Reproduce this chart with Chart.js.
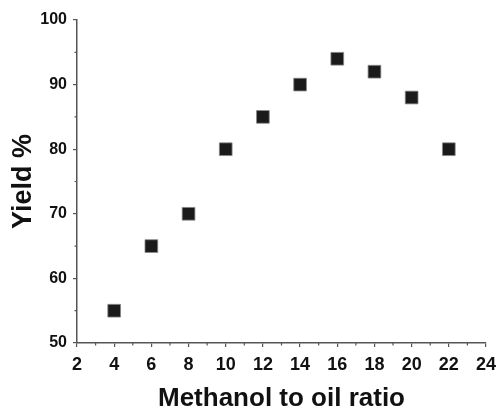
<!DOCTYPE html>
<html>
<head>
<meta charset="utf-8">
<script src="https://cdn.jsdelivr.net/npm/chart.js@4/dist/chart.umd.min.js"></script>
<style>
  html, body { margin: 0; padding: 0; background: #fff; }
  #wrap { width: 498px; height: 411px; }
</style>
</head>
<body>
<div id="wrap"><canvas id="c" width="498" height="411"></canvas></div>
<script>
const ratios = [4, 6, 8, 10, 12, 14, 16, 18, 20, 22];
const yields = [55, 65, 70, 80, 85, 90, 94, 92, 88, 80];
const xTicks = [2, 4, 6, 8, 10, 12, 14, 16, 18, 20, 22, 24];
const yTicks = [50, 60, 70, 80, 90, 100];

const axisColor = '#555';
const font = 'Liberation Sans, Arial, sans-serif';

// minor ticks half way between the major ones, pointing outward
const minorTicks = {
    id: 'minorTicks',
    afterDraw(chart) {
        const ctx = chart.ctx;
        const xs = chart.scales.x, ys = chart.scales.y;
        ctx.save();
        ctx.strokeStyle = axisColor;
        ctx.lineWidth = 1.2;
        ctx.beginPath();
        for (let i = 0; i < xTicks.length - 1; i++) {
            const px = xs.getPixelForValue((xTicks[i] + xTicks[i + 1]) / 2);
            ctx.moveTo(px, xs.top);
            ctx.lineTo(px, xs.top + 2.5);
        }
        for (let i = 0; i < yTicks.length - 1; i++) {
            const py = ys.getPixelForValue((yTicks[i] + yTicks[i + 1]) / 2);
            ctx.moveTo(ys.right, py);
            ctx.lineTo(ys.right - 2.5, py);
        }
        ctx.stroke();
        ctx.restore();
    }
};

new Chart(document.getElementById('c').getContext('2d'), {
    type: 'scatter',
    data: {
        datasets: [{
            data: ratios.map((r, i) => ({x: r, y: yields[i]})),
            pointStyle: 'rect',
            pointRadius: 9,
            backgroundColor: '#1a1a1a',
            borderColor: '#888',
            borderWidth: 0.8
        }]
    },
    options: {
        responsive: false,
        animation: false,
        layout: {padding: {left: 0, right: 12, top: 20, bottom: 0}},
        plugins: {legend: {display: false}, tooltip: {enabled: false}},
        scales: {
            x: {
                type: 'linear',
                min: 2,
                max: 24,
                afterBuildTicks: (s) => { s.ticks = xTicks.map(v => ({value: v})); },
                afterFit: (s) => { s.height = 68; s.paddingLeft = 0; s.paddingRight = 0; },
                grid: {drawOnChartArea: false, drawTicks: true, tickLength: 4, color: axisColor, lineWidth: 1.2},
                border: {color: axisColor, width: 1.5},
                ticks: {color: '#111', padding: 7, font: {family: font, size: 18, weight: 'bold'}, maxRotation: 0},
                title: {display: true, text: 'Methanol to oil ratio', color: '#111',
                        padding: {top: 0, bottom: -3}, font: {family: font, size: 26, weight: 'bold'}}
            },
            y: {
                type: 'linear',
                min: 50,
                max: 100,
                afterBuildTicks: (s) => { s.ticks = yTicks.map(v => ({value: v})); },
                afterFit: (s) => { s.width = 77; s.paddingTop = 0; s.paddingBottom = 0; },
                grid: {drawOnChartArea: false, drawTicks: true, tickLength: 4, color: axisColor, lineWidth: 1.2},
                border: {color: axisColor, width: 1.5},
                ticks: {color: '#111', padding: 6, font: {family: font, size: 16, weight: 'bold'}},
                title: {display: true, text: 'Yield %', color: '#111',
                        padding: {top: 7, bottom: 0}, font: {family: font, size: 27, weight: 'bold'}}
            }
        }
    },
    plugins: [minorTicks]
});
</script>
</body>
</html>
